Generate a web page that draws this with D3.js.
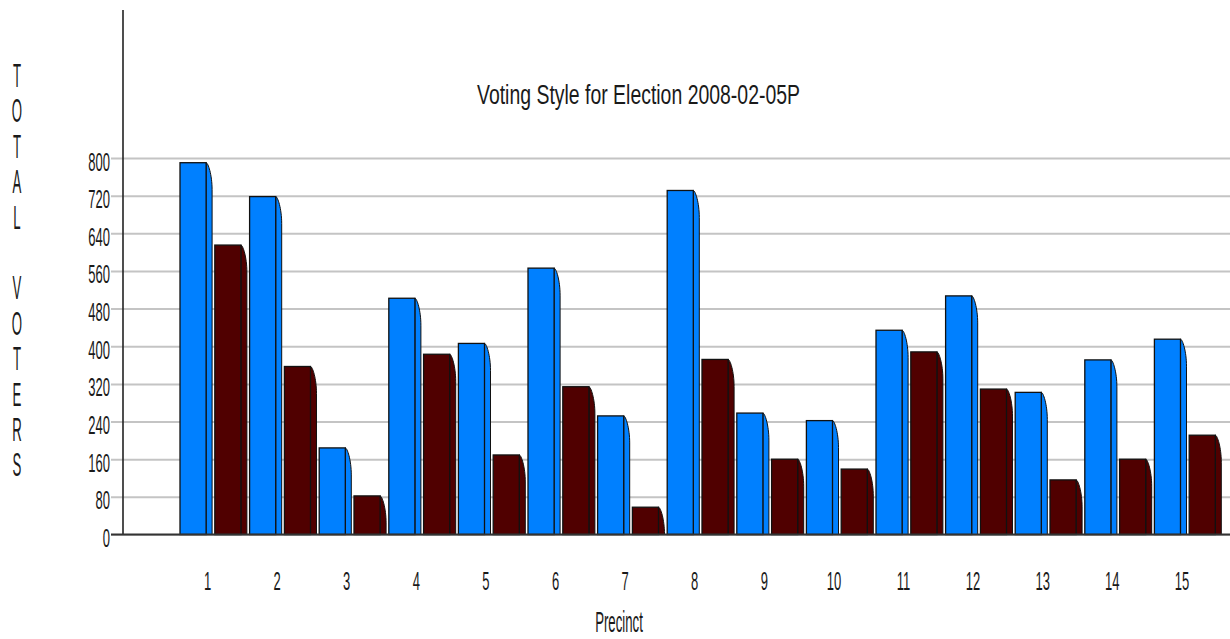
<!DOCTYPE html>
<html>
<head>
<meta charset="utf-8">
<script src="https://cdn.jsdelivr.net/npm/d3@7"></script>
<style>
  body { margin: 0; background: #fff; }
  text { font-family: "Liberation Sans", Arial, sans-serif; fill: #1a1a1a; }
</style>
</head>
<body>
<div id="chart"></div>
<script>
// values
const precincts = ["1","2","3","4","5","6","7","8","9","10","11","12","13","14","15"];
const series1 = [790, 718, 184, 502, 406, 566, 252, 731, 258, 242, 434, 507, 302, 371, 415];
const series2 = [615, 357, 82, 383, 169, 314, 58, 372, 160, 139, 388, 309, 116, 160, 211];
const seriesColors = ["#0080ff", "#500000"];
const yTicks = [0, 80, 160, 240, 320, 400, 480, 560, 640, 720, 800];
const titleText = "Voting Style for Election 2008-02-05P";
const yLabel = "TOTAL VOTERS";
const xLabel = "Precinct";

const width = 1230, height = 639;
const axisX = 123, gridLeft = 111;

const svg = d3.select("#chart").append("svg")
  .attr("width", width)
  .attr("height", height);

const y = d3.scaleLinear().domain([0, 800]).range([534.5, 158]);

const x0 = d3.scaleBand().domain(precincts).range([180, 1224]).padding(0);
const x1 = d3.scaleBand().domain([0, 1]).range([0, x0.bandwidth()]).padding(0);

// squeezed text helper (the original font is very narrow and tall)
function narrowText(g, txt, px, py, size, sx, anchor) {
  return g.append("text")
    .attr("transform", `translate(${px},${py}) scale(${sx},1)`)
    .attr("text-anchor", anchor || "middle")
    .style("font-size", size + "px")
    .text(txt);
}

// gridlines + tick labels
const yAxis = d3.axisLeft(y).tickValues(yTicks).tickSize(-(width - gridLeft)).tickPadding(0);
const yAxisG = svg.append("g")
  .attr("transform", `translate(${gridLeft},0)`)
  .call(yAxis);
yAxisG.select(".domain").remove();
yAxisG.selectAll(".tick line").attr("stroke", "#c4c4c4").attr("stroke-width", 2);
const sxTick = 0.5;
yAxisG.selectAll(".tick text")
  .attr("x", null).attr("dy", null)
  .attr("transform", `translate(-1,12) scale(${sxTick},1)`)
  .attr("text-anchor", "end")
  .style("font-size", "26px")
  .style("font-family", "Liberation Sans, Arial, sans-serif")
  .attr("fill", "#1a1a1a");

// bars
const rows = precincts.map((p, i) => ({ p, vals: [series1[i], series2[i]] }));
const frontW = x1.bandwidth() * 0.75;
const sideW = 6;
const drop = 27;

const groups = svg.append("g").selectAll("g")
  .data(rows)
  .join("g")
  .attr("transform", d => `translate(${x0(d.p)},0)`);

const bars = groups.selectAll("g")
  .data(d => d.vals.map((v, k) => ({ v, k })))
  .join("g")
  .attr("transform", d => `translate(${x1(d.k)},0)`);

bars.append("path")
  .attr("d", d => {
    const top = y(d.v), base = y(0);
    const dd = Math.min(drop, base - top);
    const xr = frontW;
    return `M${xr},${top} C${xr + 2},${top} ${xr + sideW},${top + dd * 0.45} ${xr + sideW},${top + dd}` +
      ` L${xr + sideW},${base} L${xr},${base} Z`;
  })
  .attr("fill", d => seriesColors[d.k])
  .attr("stroke", "#111")
  .attr("stroke-width", 1);

bars.append("rect")
  .attr("x", 0)
  .attr("y", d => y(d.v))
  .attr("width", frontW)
  .attr("height", d => y(0) - y(d.v))
  .attr("fill", d => seriesColors[d.k])
  .attr("stroke", "#111")
  .attr("stroke-width", 1.3);

// axis lines
svg.append("line")
  .attr("x1", axisX).attr("x2", axisX)
  .attr("y1", 10).attr("y2", y(0))
  .attr("stroke", "#222").attr("stroke-width", 1.6);
svg.append("line")
  .attr("x1", gridLeft).attr("x2", width)
  .attr("y1", y(0)).attr("y2", y(0))
  .attr("stroke", "#333").attr("stroke-width", 2);

// x tick labels
const xl = svg.append("g");
precincts.forEach(p => {
  narrowText(xl, p, x0(p) + x0.bandwidth() * 0.395, 590, 26, sxTick);
});

// title
svg.append("text")
  .attr("x", 477).attr("y", 104)
  .attr("textLength", 323)
  .attr("lengthAdjust", "spacingAndGlyphs")
  .style("font-size", "27px")
  .text(titleText);

// x axis title
narrowText(svg, xLabel, 619, 632, 30, 0.44);

// vertical y label, one letter per line
const yl = svg.append("g");
yLabel.split("").forEach((ch, i) => {
  if (ch !== " ") narrowText(yl, ch, 17, 87 + i * 35.4, 33, 0.4);
});
</script>
</body>
</html>
